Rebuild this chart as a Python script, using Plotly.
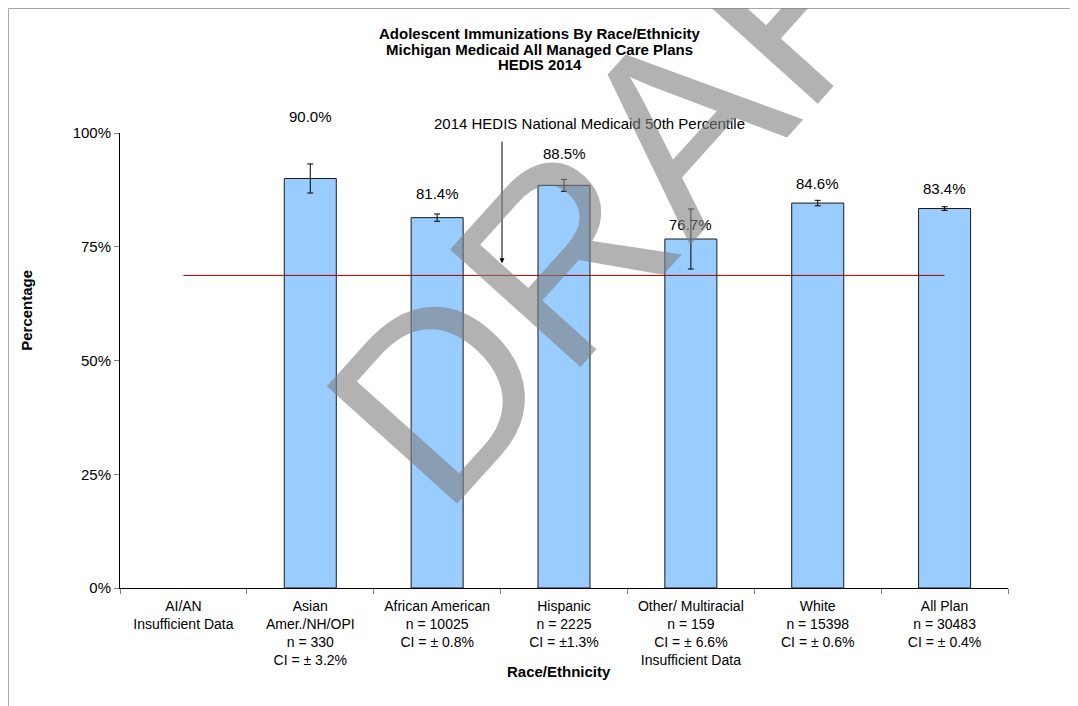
import plotly.graph_objects as go

# data
categories = [
    "AI/AN<br>Insufficient Data",
    "Asian<br>Amer./NH/OPI<br>n = 330<br>CI = ± 3.2%",
    "African American<br>n = 10025<br>CI = ± 0.8%",
    "Hispanic<br>n = 2225<br>CI = ±1.3%",
    "Other/ Multiracial<br>n = 159<br>CI = ± 6.6%<br>Insufficient Data",
    "White<br>n = 15398<br>CI = ± 0.6%",
    "All Plan<br>n = 30483<br>CI = ± 0.4%",
]
rates = [None, 90.0, 81.4, 88.5, 76.7, 84.6, 83.4]
ci_half = [None, 3.2, 0.8, 1.3, 6.6, 0.6, 0.4]
benchmark = 68.7
y_ticks = [0, 25, 50, 75, 100]
y_tick_text = ["0%", "25%", "50%", "75%", "100%"]

FONT = "Arial, Liberation Sans, sans-serif"

fig = go.Figure()
fig.add_trace(go.Bar(
    x=categories,
    y=rates,
    marker=dict(color="#99CCFF", line=dict(color="#1a1a1a", width=1)),
    error_y=dict(type="data", array=ci_half, visible=True, color="black", thickness=1, width=3),
    showlegend=False,
    hoverinfo="skip",
))
fig.add_trace(go.Scatter(
    x=[categories[0], categories[-1]],
    y=[benchmark, benchmark],
    mode="lines",
    line=dict(color="#a00000", width=1),
    showlegend=False,
    hoverinfo="skip",
))

# value labels, nudged like the hand-placed Excel labels
label_shift = [0, 62, 24, 32, 15, 20, 20]
annotations = []
for cat, v, dy in zip(categories, rates, label_shift):
    if v is None:
        continue
    annotations.append(dict(
        x=cat, y=v, xref="x", yref="y", text=f"{v:.1f}%", showarrow=False,
        yshift=dy, yanchor="middle", font=dict(size=15, color="black", family=FONT),
    ))

# title lines (tight line spacing)
title_lines = ["Adolescent Immunizations By Race/Ethnicity",
               "Michigan Medicaid All Managed Care Plans",
               "HEDIS 2014"]
for line, ty in zip(title_lines, [1.219, 1.184, 1.1495]):
    annotations.append(dict(
        x=0.4726, y=ty, xref="paper", yref="paper", text=f"<b>{line}</b>", showarrow=False,
        xanchor="center", yanchor="middle", font=dict(size=15, color="black", family=FONT),
    ))

annotations += [
    dict(x=0.529, y=1.0205, xref="paper", yref="paper",
         text="2014 HEDIS National Medicaid 50th Percentile", showarrow=False,
         xanchor="center", yanchor="middle", font=dict(size=15, color="black", family=FONT)),
    dict(x=0.4302, y=71.4, xref="paper", yref="y", text="", showarrow=True,
         ax=0, ay=-123, arrowhead=2, arrowsize=1, arrowwidth=1, arrowcolor="black", standoff=0),
    dict(x=-0.105, y=0.611, xref="paper", yref="paper", text="<b>Percentage</b>", showarrow=False,
         textangle=-90, xanchor="center", yanchor="middle",
         font=dict(size=15, color="black", family=FONT)),
    dict(x=0.4944, y=-0.184, xref="paper", yref="paper", text="<b>Race/Ethnicity</b>", showarrow=False,
         xanchor="center", yanchor="middle", font=dict(size=15, color="black", family=FONT)),
    # DRAFT watermark
    dict(x=0.610, y=0.975, xref="paper", yref="paper", text="DRAFT", showarrow=False,
         textangle=-48, xanchor="center", yanchor="middle", opacity=0.6,
         font=dict(size=255, color="#808080", family=FONT)),
]

# the page body adds an 8px offset, so the figure is drawn 8px smaller
fig.update_layout(
    width=1070,
    height=698,
    margin=dict(l=112, r=70, t=125, b=118),
    paper_bgcolor="white",
    plot_bgcolor="white",
    bargap=0.59,
    font=dict(family=FONT, size=14, color="black"),
    annotations=annotations,
    shapes=[
        dict(type="line", xref="paper", yref="paper", x0=-0.1256, x1=1.1, y0=1.2736, y1=1.2736,
             line=dict(color="#a6a6a6", width=1)),
        dict(type="line", xref="paper", yref="paper", x0=-0.1256, x1=-0.1256, y0=-0.3, y1=1.2736,
             line=dict(color="#a6a6a6", width=1)),
    ],
    xaxis=dict(
        showline=True, linecolor="black", linewidth=1,
        ticks="outside", tickson="boundaries", ticklen=5, tickcolor="#808080",
        ticklabelstandoff=5,
        showgrid=False, tickfont=dict(size=14, family=FONT, color="black"),
    ),
    yaxis=dict(
        range=[0, 100], tickvals=y_ticks, ticktext=y_tick_text,
        showline=True, linecolor="black", linewidth=1,
        ticks="outside", ticklen=5, tickcolor="#808080",
        showgrid=False, zeroline=False, tickfont=dict(size=15, family=FONT, color="black"),
    ),
)

fig.write_html("out.html")
